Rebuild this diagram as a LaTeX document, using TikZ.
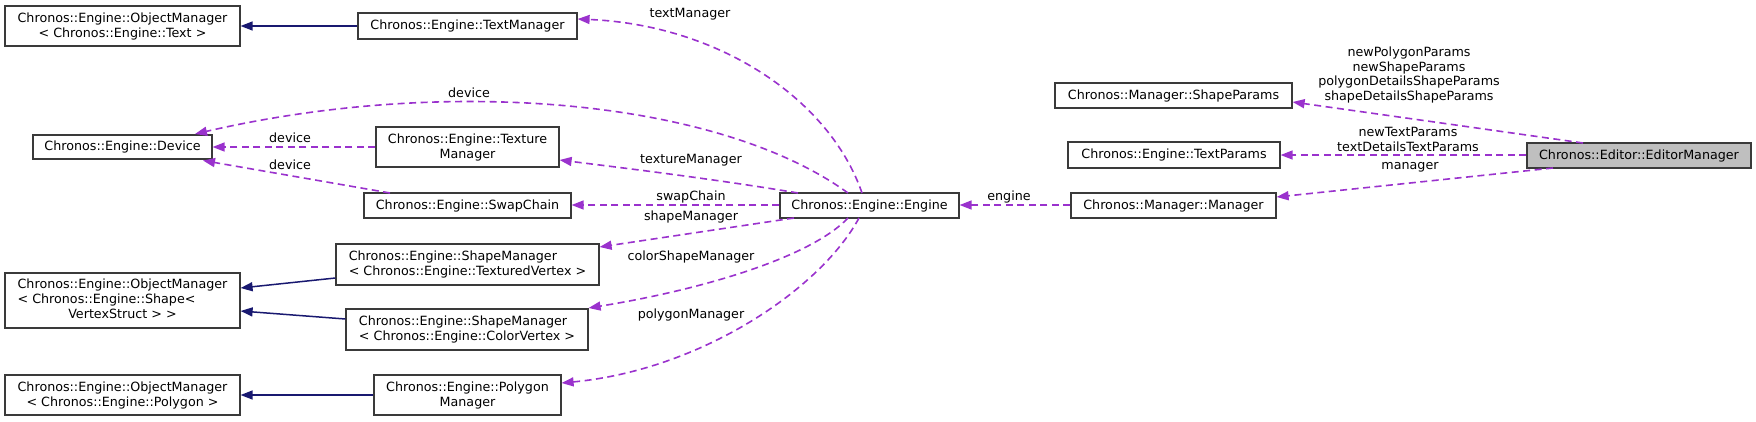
\documentclass[tikz,border=0pt]{standalone}
\usepackage{fontspec}
\setmainfont{DejaVu Sans}
\usetikzlibrary{arrows.meta}
\definecolor{depc}{HTML}{9A32CD}
\definecolor{inhc}{HTML}{191970}
\definecolor{bordc}{HTML}{3A3A3A}
\definecolor{rootc}{HTML}{BFBFBF}
\tikzset{
  cls/.style={draw=bordc, line width=1.2pt, fill=white, inner sep=0pt, align=center,
    font=\fontsize{12.7}{15}\selectfont},
  rootcls/.style={cls, fill=rootc},
  lcls/.style={cls, align=left},
  dep/.style={draw=depc, line width=1.6pt, dash pattern=on 7pt off 4.5pt,
    -{Triangle[length=12pt,width=9pt,fill=depc]}},
  inh/.style={draw=inhc, line width=1.5pt, -{Triangle[length=12pt,width=9pt,fill=inhc]}},
  elab/.style={inner sep=0pt, font=\fontsize{12.7}{14.7}\selectfont, align=center}
}
\begin{document}
\begin{tikzpicture}[x=1pt,y=-1pt]
\useasboundingbox (0,0) rectangle (1756,421);
% nodes
\node[cls, minimum width=235, minimum height=40] (omtext) at (122.5,26) {Chronos::Engine::ObjectManager\\< Chronos::Engine::Text >};
\node[cls, minimum width=219, minimum height=26] (textmgr) at (467.5,26) {Chronos::Engine::TextManager};
\node[cls, minimum width=179, minimum height=24] (device) at (122.5,147) {Chronos::Engine::Device};
\node[cls, minimum width=183, minimum height=40] (texmgr) at (467.5,147) {Chronos::Engine::Texture\\Manager};
\node[cls, minimum width=207, minimum height=25] (swap) at (467.5,205.5) {Chronos::Engine::SwapChain};
\node[cls, minimum width=179, minimum height=25] (engine) at (869.5,205.5) {Chronos::Engine::Engine};
\node[lcls, minimum width=263, minimum height=41] (smtex) at (467.5,264.5) {Chronos::Engine::ShapeManager\\< Chronos::Engine::TexturedVertex >};
\node[cls, minimum width=235, minimum height=55] (omshape) at (122.5,300.5) {\begin{tabular}{@{}l@{}}Chronos::Engine::ObjectManager\\< Chronos::Engine::Shape<\\\multicolumn{1}{@{}c@{}}{VertexStruct > >}\end{tabular}};
\node[lcls, minimum width=242, minimum height=41] (smcol) at (467,329.5) {Chronos::Engine::ShapeManager\\< Chronos::Engine::ColorVertex >};
\node[cls, minimum width=235, minimum height=40] (ompoly) at (122.5,395) {Chronos::Engine::ObjectManager\\< Chronos::Engine::Polygon >};
\node[cls, minimum width=187, minimum height=40] (polymgr) at (467.5,395) {Chronos::Engine::Polygon\\Manager};
\node[cls, minimum width=237, minimum height=25] (shapeparams) at (1173.5,95.5) {Chronos::Manager::ShapeParams};
\node[cls, minimum width=212, minimum height=26] (textparams) at (1174,155) {Chronos::Engine::TextParams};
\node[cls, minimum width=205, minimum height=25] (manager) at (1173.5,205.5) {Chronos::Manager::Manager};
\node[rootcls, minimum width=224, minimum height=25] (editor) at (1639,155.5) {Chronos::Editor::EditorManager};
% inheritance
\draw[inh] (textmgr.west |- 0,26) -- (omtext.east |- 0,26);
\draw[inh] (smtex.west |- 0,278) -- (omshape.east |- 0,288);
\draw[inh] (smcol.west |- 0,319) -- (omshape.east |- 0,311);
\draw[inh] (polymgr.west |- 0,395) -- (ompoly.east |- 0,395);
% usage
\coordinate (eTop1) at (862,193);
\coordinate (eTop2) at (848,193);
\coordinate (eTop3) at (798,193);
\coordinate (eBot1) at (794,218);
\coordinate (eBot2) at (848,218);
\coordinate (eBot3) at (859,218);
\coordinate (swapc) at (390,193);
\draw[dep] (eTop1) .. controls (830,100) and (720,25) .. (textmgr.east |- 0,19);
\draw[dep] (eTop2) .. controls (720,100) and (450,75) .. (195,134);
\draw[dep] (texmgr.west |- 0,147) -- (device.east |- 0,147);
\draw[dep] (swapc) -- (203,160.5);
\draw[dep] (eTop3) .. controls (720,180) and (640,170) .. (texmgr.east |- 0,160);
\draw[dep] (engine.west |- 0,205) -- (swap.east |- 0,205);
\draw[dep] (eBot1) -- (smtex.east |- 0,247);
\draw[dep] (eBot2) .. controls (810,258) and (700,290) .. (smcol.east |- 0,308);
\draw[dep] (eBot3) .. controls (820,290) and (700,370) .. (polymgr.east |- 0,383);
\draw[dep] (manager.west |- 0,205) -- (engine.east |- 0,205);
\draw[dep] (1583,143) -- (shapeparams.east |- 0,102);
\draw[dep] (editor.west |- 0,155) -- (textparams.east |- 0,155);
\draw[dep] (1553,168) -- (manager.east |- 0,197);
% labels
\node[elab] (l1) at (690,14) {textManager};
\node[elab] (l2) at (469,93) {device};
\node[elab] (l3) at (290,138) {device};
\node[elab] (l4) at (290,165) {device};
\node[elab] (l5) at (691,160) {textureManager};
\node[elab] (l6) at (691,197) {swapChain};
\node[elab] (l7) at (691,217) {shapeManager};
\node[elab] (l8) at (691,257) {colorShapeManager};
\node[elab] (l9) at (691,315) {polygonManager};
\node[elab] (l10) at (1009,197) {engine};
\node[elab] (l11) at (1409,75) {newPolygonParams\\newShapeParams\\polygonDetailsShapeParams\\shapeDetailsShapeParams};
\node[elab] (l12) at (1408,139.5) {newTextParams\\textDetailsTextParams};
\node[elab] (l13) at (1410,167) {manager};
\end{tikzpicture}
\end{document}
